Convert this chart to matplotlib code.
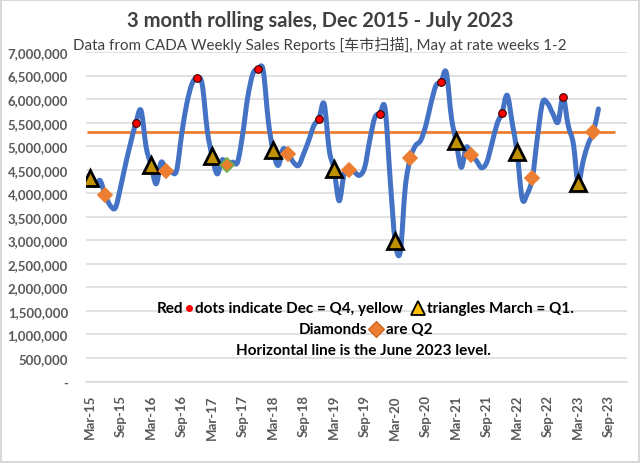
import numpy as np
import pandas as pd
import matplotlib
matplotlib.use("Agg")
import matplotlib.pyplot as plt
import matplotlib.dates as mdates
from matplotlib.path import Path
from matplotlib.patches import PathPatch
from matplotlib.lines import Line2D
from matplotlib.ticker import FuncFormatter

plt.rcParams['font.family'] = ['Lato', 'Noto Sans CJK SC', 'DejaVu Sans']

# monthly 3-month rolling sales (millions), Mar 2015 .. Jul 2023
months = pd.date_range('2015-03-01', periods=101, freq='MS')
sales_m = [
    4.32, 4.16, 4.27, 3.96, 3.74, 3.69, 4.13, 4.62, 5.08, 5.49,   # Mar15-Dec15
    5.76, 4.98, 4.60, 4.20, 4.66, 4.47, 4.45, 4.48, 5.26, 5.90, 6.32, 6.45,  # 2016
    6.32, 5.33, 4.80, 4.41, 4.71, 4.60, 4.66, 4.66, 5.26, 6.04, 6.54, 6.63,  # 2017
    6.62, 5.54, 4.91, 4.59, 4.94, 4.84, 4.66, 4.59, 4.84, 5.12, 5.44, 5.58,  # 2018
    5.90, 4.91, 4.52, 3.84, 4.41, 4.50, 4.45, 4.38, 4.55, 5.12, 5.61, 5.69,  # 2019
    5.80, 4.27, 2.99, 2.75, 4.13, 4.75, 5.01, 5.12, 5.44, 5.90, 6.29, 6.36,  # 2020
    6.57, 5.61, 5.10, 4.55, 4.98, 4.82, 4.69, 4.54, 4.66, 5.05, 5.47, 5.71,  # 2021
    6.08, 5.47, 4.87, 3.88, 3.99, 4.33, 5.19, 5.93, 5.90, 5.69, 5.51, 6.04,  # 2022
    5.44, 5.05, 4.22, 4.69, 5.05, 5.30, 5.79,                                # 2023
]
sales = np.array(sales_m) * 1e6

title = "3 month rolling sales, Dec 2015 - July 2023"
subtitle = "Data from CADA Weekly Sales Reports [车市扫描], May at rate weeks 1-2"

BLUE = '#4472C4'
ORANGE = '#ED7D31'
GOLD = '#BF9000'
GRAY = '#595959'

fig = plt.figure(figsize=(6.4, 4.64), dpi=100)
fig.patch.set_edgecolor('#D9D9D9')
fig.patch.set_linewidth(1.5)
ax = fig.add_axes([86 / 640, 1 - 382.5 / 464, (627 - 86) / 640, (382.5 - 53) / 464])

# smoothed line (Excel-like Catmull-Rom bezier through the monthly points)
x = mdates.date2num(months)
y = sales
pts = np.column_stack([x, y])
verts = [pts[0]]
codes = [Path.MOVETO]
n = len(pts)
for i in range(n - 1):
    p0 = pts[max(i - 1, 0)]
    p1 = pts[i]
    p2 = pts[i + 1]
    p3 = pts[min(i + 2, n - 1)]
    c1 = p1 + (p2 - p0) / 6
    c2 = p2 - (p3 - p1) / 6
    verts += [c1, c2, p2]
    codes += [Path.CURVE4] * 3
ax.add_patch(PathPatch(Path(verts, codes), fill=False, edgecolor=BLUE,
                       linewidth=3.6, capstyle='round', joinstyle='round', zorder=3))

# June 2023 level
level = sales[months == pd.Timestamp('2023-06-01')][0]
ax.hlines(level, mdates.date2num(pd.Timestamp('2015-02-13')),
          mdates.date2num(pd.Timestamp('2023-10-07')), color=ORANGE, lw=2, zorder=2)

# markers
mar = months.month == 3
dec = months.month == 12
jun = months.month == 6
ax.plot(months[mar], sales[mar], ls='none', marker='^', ms=11, mfc=GOLD,
        mec='black', mew=2, zorder=5)
ax.plot(months[dec], sales[dec], ls='none', marker='o', ms=5.5, mfc='#FF0000',
        mec='#3a0000', mew=0.8, zorder=5)
jun_edge = [('#70AD47' if d.year == 2017 else ORANGE) for d in months[jun]]
for d, v, ec in zip(months[jun], sales[jun], jun_edge):
    ax.plot([d], [v], ls='none', marker='D', ms=7.5, mfc=ORANGE, mec=ec,
            mew=1.2, zorder=5)

ax.set_ylim(0, 7e6)
ax.set_xlim(mdates.date2num(pd.Timestamp('2015-02-06')),
            mdates.date2num(pd.Timestamp('2023-12-19')))
ax.set_yticks(np.arange(0, 7.01e6, 5e5))
ax.yaxis.set_major_formatter(FuncFormatter(lambda v, p: '-' if v == 0 else f'{v:,.0f}'))
ax.xaxis.set_major_locator(mdates.MonthLocator(bymonth=(3, 9)))
ax.xaxis.set_major_formatter(mdates.DateFormatter('%b-%y'))
ax.grid(axis='y', color='#D9D9D9', lw=1.1)
ax.set_axisbelow(True)
for s in ['top', 'right', 'left']:
    ax.spines[s].set_visible(False)
ax.spines['bottom'].set_color('#D9D9D9')
ax.spines['bottom'].set_linewidth(1.1)
ax.tick_params(length=0, colors=GRAY)
ax.tick_params(axis='y', pad=13, labelsize=9.5)
ax.tick_params(axis='x', pad=9, labelsize=9.5, rotation=90)
for lab in ax.get_xticklabels() + ax.get_yticklabels():
    lab.set_fontweight('bold')

fig.text(0.5, 1 - 21 / 464, title, ha='center', va='center', fontsize=14.5,
         fontweight='bold', color='#404040')
fig.text(320 / 640, 1 - 45 / 464, subtitle, ha='center', va='center',
         fontsize=10.9, color='#404040')

# annotation text with inline symbols
renderer = fig.canvas.get_renderer()


def ftxt(px, py, s, ha='left'):
    t = fig.text(px / 640, 1 - py / 464, s, ha=ha, va='center', fontsize=11,
                 fontweight='bold', color='black')
    bb = t.get_window_extent(renderer)
    return bb.x0, bb.x1


def fmark(px, py, **kw):
    fig.add_artist(Line2D([px / 640], [1 - py / 464], ls='none',
                          transform=fig.transFigure, **kw))


x0, _ = ftxt(403, 309, "dots indicate Dec = Q4, yellow", ha='right')
fmark(x0 - 6, 309, marker='o', ms=4, mfc='#FF0000', mec='#FF0000')
ftxt(x0 - 12, 309, "Red", ha='right')
fmark(418, 309, marker='^', ms=10, mfc='#FFC000', mec='black', mew=1.3)
ftxt(427, 309, "triangles March = Q1.")
ftxt(367, 330, "Diamonds", ha='right')
fmark(376, 330, marker='D', ms=8, mfc=ORANGE, mec='#C55A11', mew=0.8)
ftxt(386, 330, "are Q2")
ftxt(236, 351, "Horizontal line is the June 2023 level.")

fig.savefig('out.png', dpi=100)
